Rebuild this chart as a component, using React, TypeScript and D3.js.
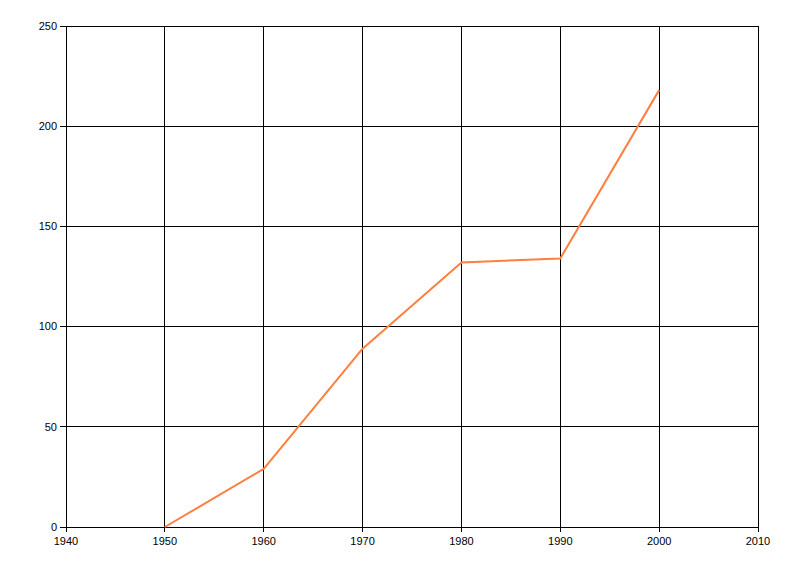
import React from 'react';
import * as d3 from 'd3';

const years = [1950, 1960, 1970, 1980, 1990, 2000];
const values = [0, 29, 89, 132, 134, 218];
const xTicks = [1940, 1950, 1960, 1970, 1980, 1990, 2000, 2010];
const yTicks = [0, 50, 100, 150, 200, 250];

const W = 800;
const H = 576;
const margin = { top: 26, right: 42, bottom: 49, left: 66 };

const App: React.FC = () => {
  const x = d3.scaleLinear().domain([1940, 2010]).range([margin.left, W - margin.right]);
  const y = d3.scaleLinear().domain([0, 250]).range([H - margin.bottom, margin.top]);

  const line = d3.line<number>()
    .x((_, i) => x(years[i]))
    .y(d => y(d));

  const font = "'Liberation Sans', 'DejaVu Sans', sans-serif";

  return (
    <svg width={W} height={H} style={{ position: 'absolute', left: 0, top: 0, background: '#fff' }}>
      {/* grid verticales */}
      {xTicks.map(t => (
        <line key={'gx' + t} x1={x(t)} x2={x(t)} y1={y(250)} y2={y(0) + 5}
          stroke="#000" strokeWidth={1} shapeRendering="crispEdges" />
      ))}
      {/* grid horizontales */}
      {yTicks.map(t => (
        <line key={'gy' + t} x1={x(1940) - 6} x2={x(2010)} y1={y(t)} y2={y(t)}
          stroke="#000" strokeWidth={1} shapeRendering="crispEdges" />
      ))}
      {yTicks.map(t => (
        <text key={'ly' + t} x={x(1940) - 9} y={y(t)} dy="0.35em" textAnchor="end"
          fontFamily={font} fontSize={11} fill="#000">{t}</text>
      ))}
      {xTicks.map(t => (
        <text key={'lx' + t} x={x(t)} y={y(0) + 18} textAnchor="middle"
          fontFamily={font} fontSize={11} fill="#000">{t}</text>
      ))}
      <path d={line(values) ?? ''} fill="none" stroke="#FF7F3F" strokeWidth={2} strokeLinejoin="round" />
    </svg>
  );
};

export default App;
